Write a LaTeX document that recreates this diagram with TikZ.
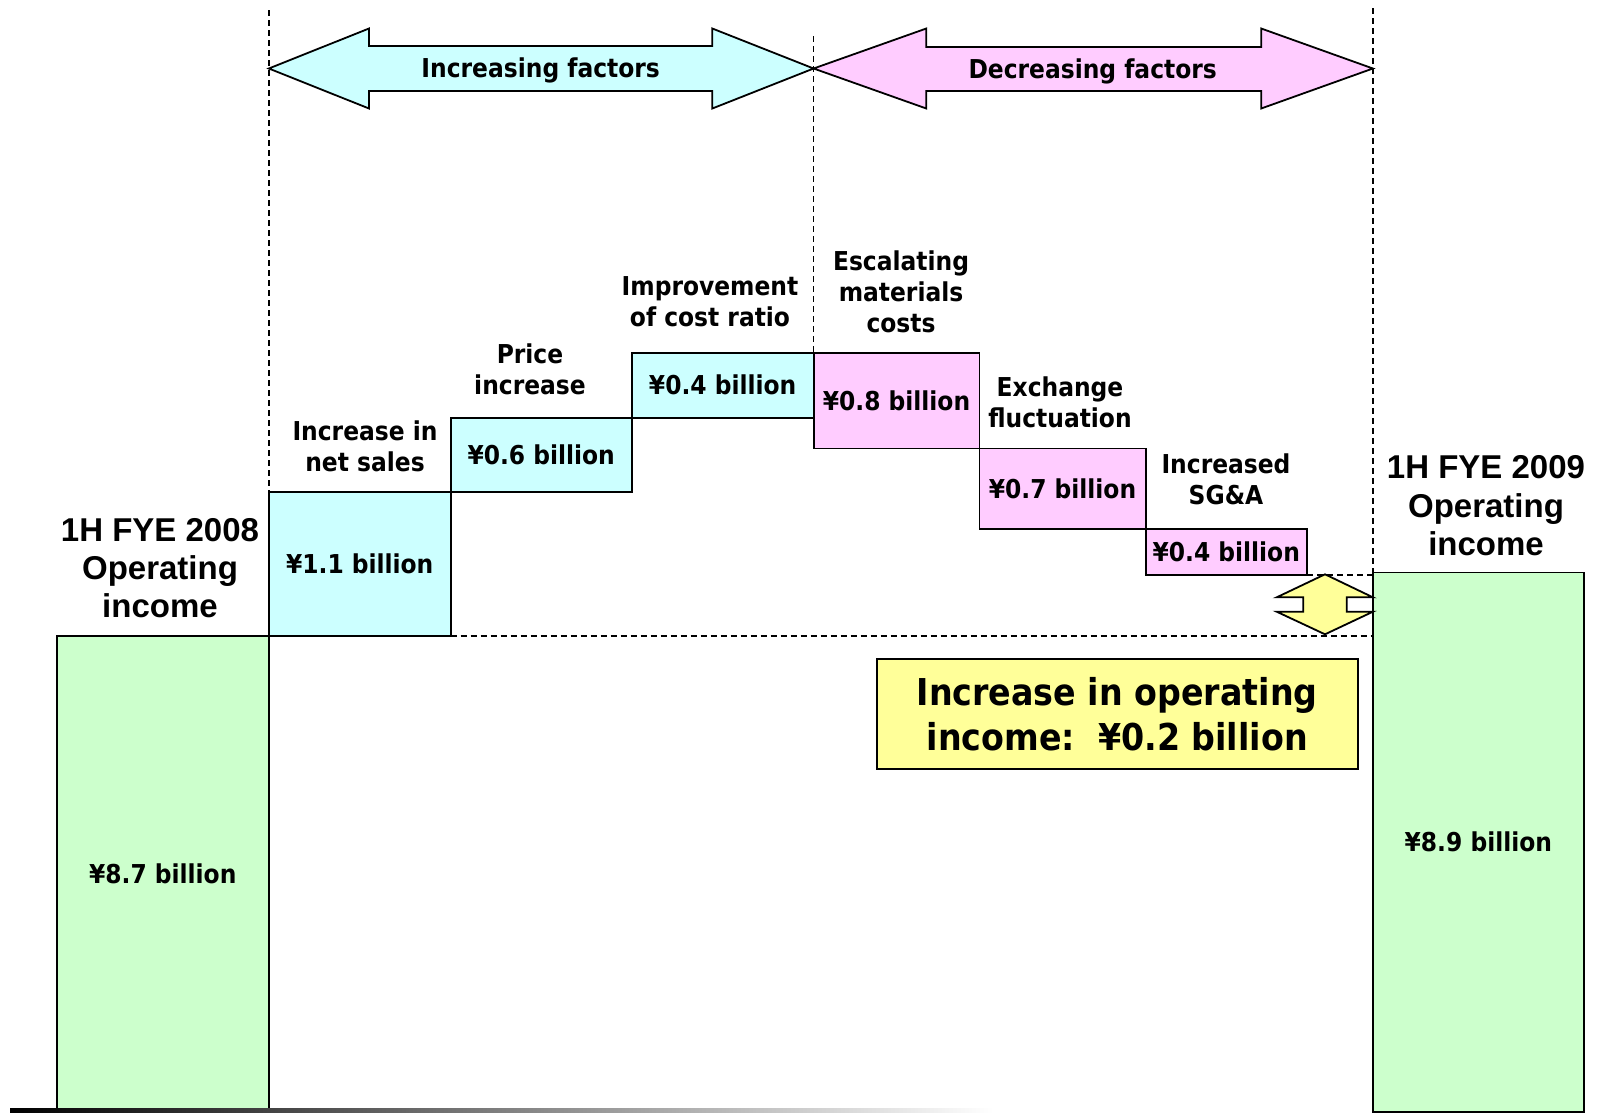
\documentclass[tikz,border=0pt]{standalone}
\usepackage{fontspec}
\usetikzlibrary{positioning}
\newfontfamily\lblfont{DejaVu Sans Condensed Bold}
\newfontfamily\ttlfont{Liberation Sans}
\definecolor{IncCyan}{RGB}{204,255,255}
\definecolor{DecPink}{RGB}{255,204,255}
\definecolor{OpGreen}{RGB}{204,255,204}
\definecolor{NoteYellow}{RGB}{255,255,153}

\begin{document}
\begin{tikzpicture}[
  x=1pt, y=-1pt,
  incbox/.style={
    draw,
    line width=1.8pt,
    fill=IncCyan,
    inner sep=0pt,
    outer sep=0pt,
    font=\lblfont\fontsize{26}{31}\selectfont
  },
  decbox/.style={incbox, fill=DecPink},
  opbox/.style={incbox, fill=OpGreen},
  wh/.style 2 args={minimum width=#1pt, minimum height=#2pt},
  factor/.style={anchor=south, align=center, inner sep=0pt, font=\lblfont\fontsize{26}{31}\selectfont},
  period/.style={anchor=south, align=center, inner sep=0pt, font=\ttlfont\bfseries\fontsize{33}{38.3}\selectfont},
  hdr/.style={anchor=base, inner sep=0pt, font=\lblfont\fontsize{26}{31}\selectfont},
  bigarrow/.style={draw, line width=1.8pt, line join=miter},
  guide/.style={dash pattern=on 6pt off 4pt, line width=1.5pt},
  note/.style={draw, line width=1.8pt, fill=NoteYellow, align=center, inner sep=0pt,
    font=\lblfont\fontsize{37}{45}\selectfont}
]
\useasboundingbox (0,0) rectangle (1621,1112);
\fill[white] (0,0) rectangle (1621,1112);

% opening and closing bars
\node[opbox, wh={212}{476.2}, anchor=north west] (start) at (56.8,635.8) {¥8.7 billion};
\node[opbox, wh={210.9}{539.5}, anchor=north west] (end) at (1372.9,572.5) {¥8.9 billion};

% guide lines
\draw[guide] (268.8,10) -- (start.north east);
\draw[guide] (813.6,36) -- (813.6,352.6);
\draw[guide] (1372.9,8) -- (end.north west);

% increasing steps
\node[incbox, wh={181.9}{143.5}, anchor=south west] (sales) at (start.north east) {¥1.1 billion};
\node[incbox, wh={181}{74.6}, anchor=south west] (price) at (sales.north east) {¥0.6 billion};
\node[incbox, wh={181.9}{65.1}, anchor=south west] (cost) at (price.north east) {¥0.4 billion};
% decreasing steps
\node[decbox, wh={165.9}{95.9}, anchor=north west] (mat) at (cost.north east) {¥0.8 billion};
\node[decbox, wh={166.1}{80.7}, anchor=north west] (fx) at (mat.south east) {¥0.7 billion};
\node[decbox, wh={161.4}{45.8}, anchor=north west] (sga) at (fx.south east) {¥0.4 billion};

\draw[guide] (sales.south east) -- (sales.south east -| end.west);
\draw[guide] (sga.south east) -- (sga.south east -| end.west);

% step labels
\node[factor] (lblsales) at (365,471.7) {Increase in\\net sales};
\node[factor] (lblprice) at (530,395) {Price\\increase};
\node[factor] (lblcost) at (710,327.3) {Improvement\\of cost ratio};
\node[factor] (lblmat) at (901,333.3) {Escalating\\materials\\costs};
\node[factor] (lblfx) at (1060,428.3) {Exchange\\fluctuation};
\node[factor] (lblsga) at (1226,505) {Increased\\SG\&A};
\node[period] (lbl2008) at (160,618.5) {1H FYE 2008\\Operating\\income};
\node[period] (lbl2009) at (1486,556) {1H FYE 2009\\Operating\\income};

% factor arrows
\draw[bigarrow, fill=IncCyan] (268.8,68.5) -- (369,28.5) -- (369,46) -- (712.3,46) -- (712.3,28.5)
  -- (813.6,68.5) -- (712.3,108.5) -- (712.3,91) -- (369,91) -- (369,108.5) -- cycle;
\draw[bigarrow, fill=DecPink] (813.6,68.5) -- (926.3,28.5) -- (926.3,47) -- (1261.2,47) -- (1261.2,28.5)
  -- (1372.9,68.5) -- (1261.2,108.5) -- (1261.2,91) -- (926.3,91) -- (926.3,108.5) -- cycle;
\node[hdr] (inchdr) at (540.7,77.5) {Increasing factors};
\node[hdr] (dechdr) at (1092.7,78.5) {Decreasing factors};

% difference marker
\draw[bigarrow, fill=NoteYellow] (1325,574.3) -- (1372.9,597.3) -- (1346.7,597.3) -- (1346.7,611.7)
  -- (1372.9,611.7) -- (1325,634.3) -- (1276.7,611.7) -- (1303.3,611.7) -- (1303.3,597.3)
  -- (1276.7,597.3) -- cycle;
\node[note, minimum width=481pt, minimum height=110.3pt] (gain) at (1117.2,714.2)
  {Increase in operating\\income:\ \ ¥0.2 billion};

% base line
\shade[left color=black, right color=white] (10,1108) rectangle (993,1112);
\end{tikzpicture}
\end{document}
